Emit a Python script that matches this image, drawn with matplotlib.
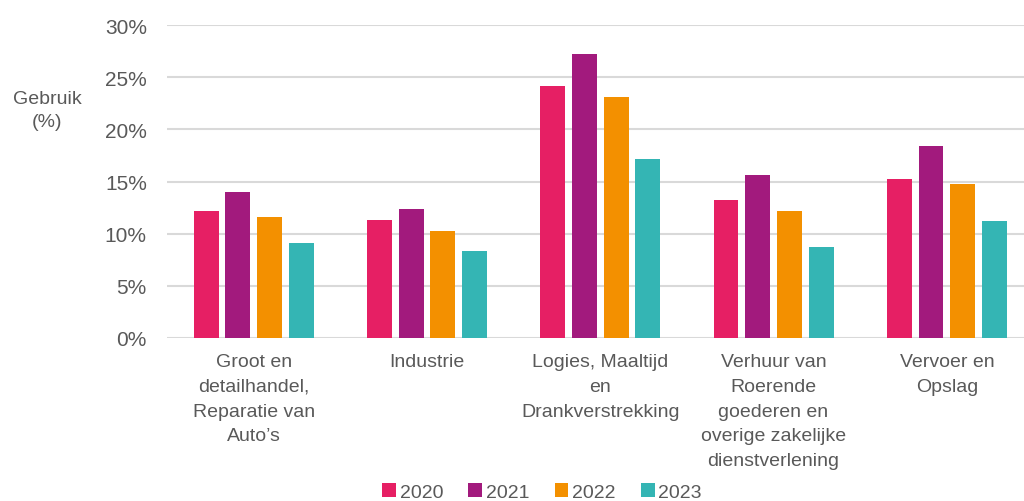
import numpy as np
import matplotlib
matplotlib.use('Agg')
import matplotlib.pyplot as plt

#chart data
categories = ['Groot en\ndetailhandel,\nReparatie van\nAuto\u2019s',
              'Industrie',
              'Logies, Maaltijd\nen\nDrankverstrekking',
              'Verhuur van\nRoerende\ngoederen en\noverige zakelijke\ndienstverlening',
              'Vervoer en\nOpslag']
years = ['2020', '2021', '2022', '2023']
v2020 = [12.2, 11.3, 24.2, 13.2, 15.2]
v2021 = [14.0, 12.4, 27.2, 15.6, 18.4]
v2022 = [11.6, 10.2, 23.1, 12.2, 14.8]
v2023 = [9.1, 8.3, 17.2, 8.7, 11.2]
colors = ['#E61F64', '#A21A7D', '#F39000', '#34B5B4']

plt.rcParams['font.family'] = ['Liberation Sans', 'DejaVu Sans']
grey = '#595959'

fig = plt.figure(figsize=(10.24, 5.02), dpi=100)
ax = fig.add_axes([167/1024, 1-338.7/502, (1024-167)/1024, (338.7-26.3)/502])

x = np.arange(len(categories))
width = 0.144
step = 0.183
for k, (vals, yr) in enumerate(zip([v2020, v2021, v2022, v2023], years)):
    ax.bar(x + (k-1.5)*step, vals, width, color=colors[k], label=yr, zorder=3)

ax.set_ylim(0, 30)
ax.set_xlim(-0.5, -0.5 + (1024-167)/173.3)
ax.set_yticks(range(0, 31, 5))
ax.set_yticklabels(['%d%%' % t for t in range(0, 31, 5)])
ax.set_xticks(x)
ax.set_xticklabels(categories, linespacing=1.6)
ax.tick_params(axis='both', length=0, labelsize=14, labelcolor=grey)
ax.tick_params(axis='y', pad=14.5, labelsize=15)
ax.tick_params(axis='x', pad=11)
ax.grid(axis='y', color='#d9d9d9', linewidth=1.5, zorder=0)
for s in ax.spines.values():
    s.set_visible(False)

fig.text(47/1024, 1-111/502, 'Gebruik\n(%)', ha='center', va='center',
         fontsize=14, color=grey, linespacing=1.45)

leg = fig.legend(loc='center', bbox_to_anchor=(542/1024, 1-493/502), ncol=4,
                 frameon=False, fontsize=14, handlelength=0.7, handleheight=0.7,
                 handletextpad=0.2, columnspacing=1.3)
for t in leg.get_texts():
    t.set_color(grey)

fig.savefig('out.png', dpi=100)
